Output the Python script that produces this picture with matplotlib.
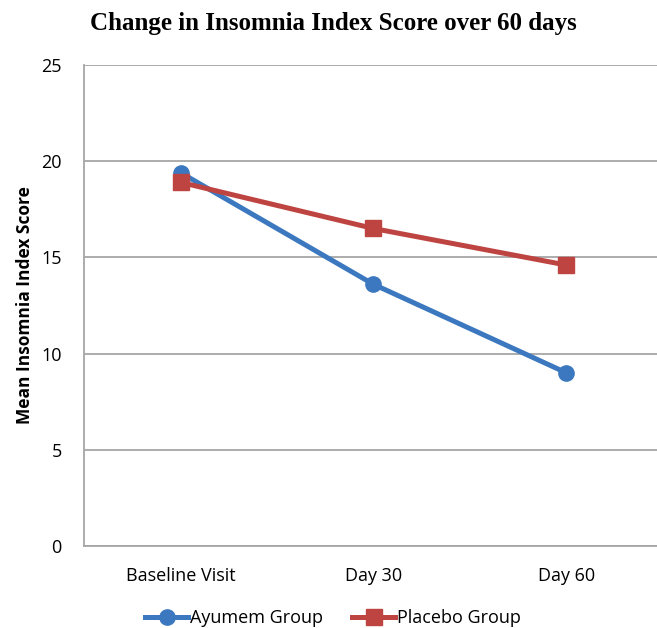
import matplotlib.pyplot as plt
import numpy as np

visits = ["Baseline Visit", "Day 30", "Day 60"]
ayumem = [19.4, 13.6, 9.0]
placebo = [18.9, 16.5, 14.6]
yticks = [0, 5, 10, 15, 20, 25]

blue = "#3B78BF"
red = "#BE4441"
grid_gray = "#A6A6A6"

fig = plt.figure(figsize=(6.57, 6.28), dpi=100)
ax = fig.add_axes([0.128, 0.1306, 0.872, 0.766])

x = np.arange(len(visits))
ax.plot(x, ayumem, color=blue, lw=3.6, marker="o", ms=11, label="Ayumem Group", zorder=3)
ax.plot(x, placebo, color=red, lw=3.6, marker="s", ms=11, label="Placebo Group", zorder=4)

ax.set_xlim(-0.5, 2.47)
ax.set_ylim(0, 25)
ax.set_yticks(yticks)
ax.set_xticks(x)
ax.set_xticklabels(visits)
ax.yaxis.grid(True, color=grid_gray, lw=1.3)
ax.set_axisbelow(True)
ax.tick_params(length=0, labelsize=13, colors="black")
ax.tick_params(axis="x", pad=15)
ax.tick_params(axis="y", pad=16)
for lab in ax.get_xticklabels() + ax.get_yticklabels():
    lab.set_family("Open Sans")
for s in ["top", "right"]:
    ax.spines[s].set_visible(False)
for s in ["left", "bottom"]:
    ax.spines[s].set_color(grid_gray)
    ax.spines[s].set_linewidth(1.3)

fig.text(0.038, 0.514, "Mean Insomnia Index Score", rotation=90, ha="center", va="center",
         fontsize=12.5, fontweight="bold", family="Open Sans")
fig.text(0.508, 0.962, "Change in Insomnia Index Score over 60 days",
         ha="center", va="center", fontsize=18, fontweight="bold", family="Liberation Serif")

fig.legend(loc="center", bbox_to_anchor=(0.507, 0.016), ncol=2, frameon=False,
           prop={"family": "Open Sans", "size": 13}, handlelength=2.4,
           handletextpad=0.1, columnspacing=1.6)

fig.savefig("out.png", dpi=100)
